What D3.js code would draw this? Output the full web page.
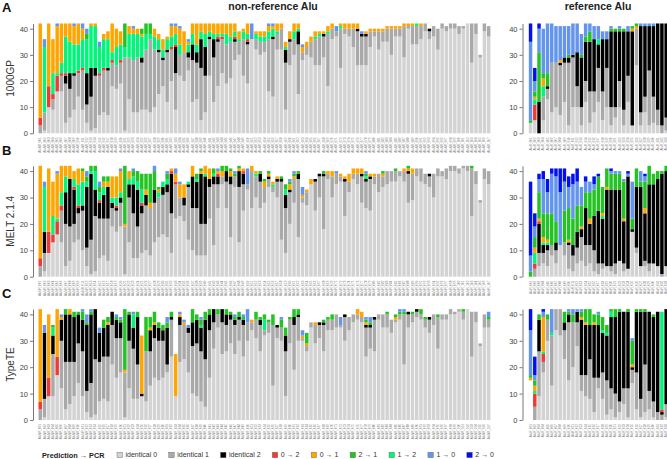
<!DOCTYPE html>
<html>
<head>
<meta charset="utf-8">
<script src="https://cdn.jsdelivr.net/npm/d3@7"></script>
<style>
  body { margin: 0; background: #fff; }
  text { font-family: "Liberation Sans", Arial, sans-serif; }
</style>
</head>
<body>
<div id="chart"></div>
<script>
// Alu genotype concordance (prediction -> PCR), stacked counts per locus

// stacking order, bottom to top
var stackKeys = ["identical 0", "identical 1", "identical 2", "0 → 2", "1 → 2", "0 → 1", "2 → 1", "1 → 0", "2 → 0"];
// legend order
var legendKeys = ["identical 0", "identical 1", "identical 2", "0 → 2", "0 → 1", "2 → 1", "1 → 2", "1 → 0", "2 → 0"];
var colors = {
  "identical 0": "#d3d3d3", "identical 1": "#a9a9a9", "identical 2": "#000000",
  "0 → 2": "#ef3b36", "0 → 1": "#ffa500", "2 → 1": "#22c322",
  "1 → 2": "#00f57a", "1 → 0": "#6495ed", "2 → 0": "#0010ee"
};

var yTicks = [0, 10, 20, 30, 40];

// locus ids (too small to read in the figure)
var nonRefIds = d3.range(1, 108).map(i => "AluNR_" + String(i).padStart(3, "0"));
var refIds = d3.range(1, 34).map(i => "AluR_" + String(i).padStart(3, "0"));

// counts per locus, in stackKeys order (missing trailing entries = 0)
var gpNonRef = [
  [0,3,0,3,0,36],[1,7,0,0,25,0,0,3],[10,0,0,8,0,24],[9,4,0,2,8,13],[16,0,0,6,1,18,0,1],
  [16,6,0,1,4,15],[4,15,3,1,14,5],[6,11,6,0,12,7],[9,13,1,0,11,7,0,1],[14,9,0,1,10,8],
  [9,15,0,1,11,4,0,2],[4,7,12,0,13,0,2,2],[1,13,11,0,16,1],[2,20,3,0,16,1],[7,15,0,1,10,0,0,2],
  [8,16,0,1,11,2],[7,17,1,0,11,3],[18,9,0,1,3,11],[17,9,0,0,7,7],[19,8,0,1,6,5],
  [1,28,0,0,4,0,9],[13,16,0,0,9,3],[8,20,0,0,10,2,0,1],[8,21,0,0,9,2],[9,18,2,0,8,1,2],
  [9,23,0,0,6,0,4],[8,28,0,0,2,0,4],[10,22,0,0,5,3],[15,16,1,0,4,2],[18,10,1,0,3,4],
  [12,19,1,0,4,1],[20,12,0,1,4,4,0,1],[9,14,10,1,4,3,0,1],[22,8,0,0,4,6,0,1],[20,11,0,0,0,8],
  [24,5,2,0,3,1,0,1],[12,16,6,0,4,4],[13,14,4,0,3,8],[5,20,11,0,3,3],[8,14,11,0,5,4],
  [22,14,1,0,2,3],[12,17,7,0,2,4],[18,17,1,1,1,4],[23,13,0,1,1,4],[19,15,0,0,4,4],
  [21,14,0,0,2,5],[28,7,1,1,2,3],[30,5,0,0,1,3],[22,14,0,0,3,1],[19,15,1,1,2,4],
  [36,0,0,0,0,0,0,6],[32,4,0,0,2,1],[30,5,0,0,2,2],[31,4,0,0,2,2],[16,20,0,0,3,2,0,1],
  [14,22,1,0,3,1,0,1],[32,6,0,0,1,3],[32,8,0,0,0,2],[9,18,5,0,1,2],[26,9,1,0,0,3],
  [30,6,0,0,3,3],[15,19,5,0,1,2],[28,3,0,0,0,2,0,1],[30,3,0,0,0,2],[29,6,0,0,0,2],
  [26,10,0,0,1,2],[26,11,0,0,1,1],[29,8,1,0,0,1],[18,20,0,0,1,2],[36,4,0,0,0,2],
  [37,2,0,0,0,0,0,2],[25,15,0,0,1,1],[38,2,0,0,0,2],[37,3,0,0,0,2],[33,7,0,0,0,2],
  [26,13,1,0,0,2],[26,11,1,0,0,0,0,1],[26,11,1,0,0,1],[33,6,0,0,0,1],[37,2,0,0,0,1],
  [32,7,0,0,0,1],[35,4,0,0,0,1],[35,5,0,0,0,1],[30,10,0,0,0,1],[37,3,0,0,0,1],
  [37,3,0,0,0,1],[29,12,0,0,0,1],[40,1,0,0,0,1],[34,7,0,0,0,1],[34,7,0,0,1],
  [36,5,0,0,0,1],[39,3],[36,3,1],[37,4],[32,8],
  [40,2],[39,2],[40,2],[40,2],[38,3],
  [40,1],[42],[27,15],[38,4],[29,1],
  [39,3],[37,4]
];
var gpRef = [
  [4,0,0,0,0,0,1,30,7],[5,0,0,6,2,1,2,4,5],[0,0,12,0,0,0,19,9,2],[5,9,0,0,4,3,2,17],[13,4,1,0,0,0,5,19],
  [8,19,0,0,0,0,0,15],[10,17,0,0,0,0,0,14],[7,19,1,0,0,1,0,13],[12,15,2,0,0,0,0,12],[3,24,2,0,0,0,1,11],
  [10,19,1,0,0,0,0,12],[10,8,13,0,0,0,0,11],[3,7,19,0,0,0,1,8],[12,8,15,0,0,0,2,5],[4,12,19,0,0,0,4,3],
  [8,8,20,0,0,0,0,5],[12,13,9,0,2,0,0,5],[5,11,20,0,0,0,0,3],[10,15,11,0,0,0,0,3],[3,7,29,0,0,0,1,1],
  [6,4,29,0,0,0,1],[10,10,19,0,0,0,1,1],[3,6,30,0,0,0,1],[12,10,17,0,0,0,0,2],[3,0,36,0,0,1,1],
  [26,14,0,0,0,1,1],[3,5,33,0,0,0,0,1],[8,6,27,0,0,0,0,1],[3,21,17,0,0,0,0,1],[4,10,27,0,0,0,0,1],
  [3,6,33],[0,3,39],[1,5,36]
];

var meltNonRef = [
  [0,4,0,3,0,35],[2,7,8,0,17,0,0,2],[9,0,0,8,0,24],[13,0,0,3,7,13],[16,0,0,5,1,17,0,1],
  [13,12,0,2,5,10],[4,16,12,0,6,4],[6,13,18,0,0,5],[13,7,13,1,3,3],[14,10,2,1,8,6],
  [10,15,2,0,9,4,1],[4,7,23,0,2,0,2,2],[1,13,25,0,1,0,2],[2,21,10,0,7,0,2],[7,15,6,1,3,0,2,2],
  [8,14,9,0,3,2,2],[6,16,12,0,0,2,2],[19,7,2,0,2,8],[17,8,1,1,3,8],[19,9,2,0,2,8,0,1],
  [1,18,0,0,0,1,22],[13,17,5,0,2,3],[7,17,11,0,3,0,2,1],[7,12,14,0,3,0,4],[9,15,3,1,5,0,6],
  [10,17,4,0,0,2,6],[8,18,0,0,0,2,11],[13,15,5,0,0,0,7,2],[15,15,0,0,2,1,1],[16,15,3,0,2],
  [15,17,3,0,2,0,2,1],[9,15,15,1,0,1],[22,13,0,1,0,3,0,2],[23,7,0,0,0,5,0,1],[21,6,3,0,0,5],
  [14,20,1,0,1],[10,16,12,0,0,4],[8,18,10,0,1,0,2],[8,12,19,0,0,1,1],[8,12,18,0,1,3],
  [22,12,3,0,0,4],[12,23,3,0,1,0,2],[26,9,3,1,0,1,0,1],[35,3,0,0,0,2,2],[26,10,4,0,0,0,2],
  [15,20,3,0,0,2,1],[34,4,0,0,0,0,1,1],[13,21,6,0,0,1,1],[25,10,4,1,0,1],[33,2,0,0,0,0,0,6],
  [26,14,0,0,0,2],[30,8,0,0,1,1],[26,10,3,0,0,0,1],[28,6,0,0,0,2,1],[34,3,1,0,0,1,1],
  [32,2,0,0,1,1],[30,6,1,0,0,1],[14,22,1,0,0,0,1],[9,17,5,0,2,0,2],[20,12,1,0,0,2,1,1],
  [28,9,0,0,0,1,1,1],[15,22,2,0,0,0,1],[28,2,0,0,0,1,0,3],[27,5,0,0,0,1],[35,0,0,0,0,2],
  [25,11,1],[30,8,1],[18,20,1,0,0,0,1],[37,2,0,0,0,1],[30,8,0,0,0,2],
  [35,4,0,0,0,0,0,1],[36,2,0,0,0,1],[23,13,1,0,0,1],[32,4,0,0,0,3],[37,2,0,0,0,2],
  [35,4,0,0,0,2],[28,10,1,0,0,2],[26,10,1,0,1,0,1,1],[25,12,1,0,0,1],[35,3,0,0,0,1],
  [32,7],[34,4,0,0,0,1,1],[35,5],[36,4],[36,4,0,0,0,0,1],
  [38,2],[36,4,0,0,0,1],[28,11,1,0,0,1,1],[29,10,0,0,0,2],[38,3],
  [36,5],[35,4],[34,4,1],[30,9],[38,3],
  [38,2],[37,4],[40,2],[40,2],[39,2],
  [41,1],[40,2],[23,18,0,0,0,0,1],[35,5],[28,1],
  [37,4],[35,5]
];
var meltRef = [
  [0,0,0,0,0,0,2,6,28],[0,3,0,2,4,2,4,4,5],[4,5,11,1,0,1,10,5,2],[5,4,3,0,1,2,9,13,3],[4,6,2,0,1,1,10,8,5],
  [8,4,0,0,0,0,12,15,2],[5,5,3,0,0,0,8,17,3],[12,0,0,0,0,0,0,20,9],[8,5,0,0,0,0,12,11,5],[3,9,1,0,0,1,12,8,4],
  [2,6,4,0,0,0,10,13,4],[5,6,6,0,0,0,10,9,5],[6,9,3,0,0,1,8,7],[4,8,14,0,0,0,6,4,2],[5,7,8,0,0,2,10,4],
  [2,8,13,0,0,0,10,2,3],[1,4,20,0,0,0,13,0,1],[3,2,17,0,1,1,10],[4,0,29,0,0,1,7],[2,2,29,0,0,0,6,1,1],
  [1,4,28,0,0,0,6,1],[6,0,27,0,0,0,6,1],[2,3,16,0,0,1,14,1],[3,0,35,0,0,0,0,1,1],[17,0,1,0,0,0,4,14],
  [9,2,23,0,0,0,7],[4,0,30,0,0,0,2,4],[4,2,18,0,0,2,10,2,1],[2,3,30,0,0,0,7],[5,0,30,0,0,0,4],
  [4,0,33,0,0,0,3],[0,1,38,0,0,0,1],[4,0,36,0,0,0,2]
];

var typeNonRef = [
  [0,4,0,3,0,35],[1,7,25,0,0,0,0,3],[9,0,0,7,0,24],[9,16,7,0,3,0,1],[17,0,0,7,0,18],
  [12,18,8,0,0,1,0,1],[4,18,18,0,0,0,2],[6,16,18,0,0,2],[9,13,17,0,0,0,2],[14,15,11,0,0,0,1],
  [9,17,12,0,0,0,3,1],[3,8,25,0,0,0,1,3],[1,13,26,0,0,0,1,1],[2,21,19],[7,15,11,0,0,0,0,2],
  [8,16,11,0,0,0,3],[7,17,12,0,0,1,2],[21,15,5],[16,15,7,0,0,0,1,1],[18,13,6,0,0,0,1,1],
  [1,17,0,0,0,1,23],[12,18,10,0,0,0,1],[8,19,8,0,5,0,0,1],[8,13,18,0,0,0,2],[9,0,1,0,0,22],
  [7,19,0,0,0,0,13],[13,13,8,0,0,1,4],[16,15,5,0,0,1,4],[15,15,5,0,0,0,2],[16,14,4,0,0,0,2],
  [18,3,14,0,0,0,2,2],[24,14,1,0,0,0,2],[9,0,0,0,0,16],[22,14,3,0,0,1,0,1],[23,13,0,0,0,1,0,1],
  [18,15,2,0,0,0,0,1],[10,18,9,0,0,0,5],[9,20,9,0,0,0,2],[7,19,9,0,1,0,2,1],[5,18,15,0,0,0,3],
  [16,18,6,0,0,0,2],[27,10,5],[35,5,0,0,0,0,2],[25,12,5],[26,10,4,0,0,0,2],
  [29,9,2,0,0,0,1],[25,11,2,0,0,0,1,1],[30,8,1,0,0,0,2],[24,12,2,0,0,0,1,1],[30,7,0,0,0,0,0,5],
  [34,3,0,0,0,1],[31,7,0,0,0,0,3],[26,10,2,0,0,0,1],[32,2,0,0,4,0,2],[33,4,0,0,0,0,1],
  [13,23,0,0,0,0,4],[31,4,1],[30,5,0,0,0,0,3,1],[9,17,6,0,0,0,3],[29,9,0,0,0,0,1],
  [19,17,3,0,0,0,3],[30,9,1,0,0,0,2],[30,1,0,0,0,1,0,2],[26,2,0,0,0,1,4],[35,2],
  [29,7,0,0,0,1],[31,5,1],[26,10,1,0,0,0,1],[34,4,0,0,0,0,1],[34,4,0,0,0,0,2],
  [35,5],[35,1,0,0,0,0,0,3],[30,9,1],[34,5],[37,3],
  [38,2,0,0,0,2],[37,2,0,0,0,2],[24,11,1,0,0,1,1,1],[27,8,1,0,0,0,1,2],[26,12,1],
  [38,2],[35,5],[35,5,0,0,0,0,1],[33,5],[37,1,0,0,0,1,1],
  [38,2,0,0,0,0,1,1],[21,19,0,0,0,0,1,1],[35,5,1],[37,3,0,0,0,0,1],[39,2,1],
  [38,2,0,0,0,0,2],[35,3,0,0,0,0,1],[33,5,1],[36,4],[27,12,0,0,0,0,1],
  [38,2],[38,2],[40,2],[40,1],[41,1],
  [38,3,0,0,0,0,1],[42],[24,17],[37,4],[28,1],
  [35,5],[35,3,0,0,0,0,1,2]
];
var typeRef = [
  [0,0,0,0,0,1,1,17,8],[0,5,0,5,1,2,2,2,7],[9,17,12,0,0,0,2],[18,4,0,3,1,13,0,2,1],[30,8,0,0,0,0,2],
  [13,19,0,0,1,0,0,9],[34,8],[32,10],[23,11,3,0,0,0,4],[15,22,3,0,0,0,1,1],
  [20,17,0,0,0,0,3,2],[28,9,4,0,0,0,0,1],[11,6,21,0,0,1,2,1],[9,8,19,0,0,1,5],[8,15,13,0,0,0,6],
  [3,13,20,0,0,1,3],[12,4,20,0,0,0,4,1],[8,10,15,0,1,0,5],[2,13,17,0,1,0,3],[4,8,27,0,2,0,1],
  [1,9,29,0,0,0,3],[3,4,34,0,0,0,1],[6,6,29],[1,11,29,0,0,0,1],[14,5,1,0,0,1,9,1],
  [4,14,23,0,0,0,1],[1,7,33,0,0,0,1],[3,18,20,0,0,0,1],[4,7,30],[1,6,32,0,0,0,1],
  [0,3,38],[0,2,1,1,37],[1,5,36]
];
// empty space below the first reference bar of TypeTE
var typeRefBlank = [15];

var rows = [
  { letter: "A", label: "1000GP", y0: 133.3, unit: 2.615, nonRef: gpNonRef, ref: gpRef, refBlank: [] },
  { letter: "B", label: "MELT 2.1.4", y0: 276.7, unit: 2.64, nonRef: meltNonRef, ref: meltRef, refBlank: [] },
  { letter: "C", label: "TypeTE", y0: 420, unit: 2.64, nonRef: typeNonRef, ref: typeRef, refBlank: typeRefBlank }
];

var svgWidth = 667, svgHeight = 459;
var svg = d3.select("#chart").append("svg")
  .attr("width", svgWidth)
  .attr("height", svgHeight);

var step = 4.227;
var xNonRef = d3.scaleBand().domain(nonRefIds)
  .range([38.3, 38.3 + step * nonRefIds.length]).paddingInner(0.18).paddingOuter(0.05);
var xRef = d3.scaleBand().domain(refIds)
  .range([528.6, 528.6 + step * refIds.length]).paddingInner(0.18).paddingOuter(0.05);

// panel titles
svg.append("text").attr("x", 273).attr("y", 10).attr("text-anchor", "middle")
  .style("font-weight", "bold").style("font-size", "10.5px").attr("fill", "#222")
  .text("non-reference Alu");
svg.append("text").attr("x", 598).attr("y", 10).attr("text-anchor", "middle")
  .style("font-weight", "bold").style("font-size", "10.5px").attr("fill", "#222")
  .text("reference Alu");

function drawPanel(g, data, ids, x, y, blank) {
  data.forEach((bar, i) => {
    var cum = blank[i] || 0;
    stackKeys.forEach((k, j) => {
      var v = bar[j] || 0;
      if (v <= 0) return;
      g.append("rect")
        .attr("x", x(ids[i]))
        .attr("width", x.bandwidth())
        .attr("y", y(cum + v))
        .attr("height", y(cum) - y(cum + v))
        .attr("fill", colors[k]);
      cum += v;
    });
  });
}

rows.forEach(row => {
  var y = d3.scaleLinear().domain([0, 42]).range([row.y0, row.y0 - 42 * row.unit]);
  var g = svg.append("g");

  drawPanel(g, row.nonRef, nonRefIds, xNonRef, y, []);
  drawPanel(g, row.ref, refIds, xRef, y, row.refBlank);

  // y axes
  [33, 522.5].forEach(ax => {
    var axis = g.append("g")
      .attr("transform", `translate(${ax},0)`)
      .call(d3.axisLeft(y).tickValues(yTicks).tickSize(3).tickSizeOuter(0).tickPadding(2));
    axis.select(".domain").attr("stroke", "#555").attr("stroke-width", 0.8);
    axis.selectAll(".tick line").attr("stroke", "#555").attr("stroke-width", 0.8);
    axis.selectAll("text").style("font-size", "7.5px").attr("fill", "#444")
      .style("font-family", "'Liberation Sans', Arial, sans-serif");
  });

  // locus labels under bars
  [xNonRef, xRef].forEach(xs => {
    var lab = g.append("g")
      .attr("transform", `translate(0,${row.y0 + 3})`)
      .call(d3.axisBottom(xs).tickSize(0).tickPadding(0));
    lab.select(".domain").remove();
    lab.selectAll("text")
      .attr("transform", "rotate(-90)")
      .attr("x", -1).attr("y", 0).attr("dy", "0.35em")
      .style("text-anchor", "end")
      .style("font-size", "3px")
      .attr("fill", "#777");
  });

  // row letter and label
  svg.append("text").attr("x", 2).attr("y", row.y0 - 42 * row.unit - 11)
    .style("font-weight", "bold").style("font-size", "13px").attr("fill", "#111")
    .text(row.letter);
  svg.append("text")
    .attr("transform", `translate(14,${row.y0 - 21 * row.unit}) rotate(-90)`)
    .attr("text-anchor", "middle")
    .style("font-size", "10px").attr("fill", "#333")
    .text(row.label);
});

// legend
var legend = svg.append("g").attr("transform", "translate(0,455)");
legend.append("text").attr("x", 42).attr("y", 0).attr("dy", "0.35em")
  .style("font-weight", "bold").style("font-size", "7.3px").attr("fill", "#222")
  .text("Prediction → PCR");

var items = legend.selectAll("g.item").data(legendKeys).enter().append("g").attr("class", "item");
items.append("rect").attr("width", 5.5).attr("height", 5.5).attr("y", -2.75)
  .attr("fill", d => colors[d]).attr("stroke", "#666").attr("stroke-width", 0.4);
items.append("text").attr("x", 8.5).attr("y", 0).attr("dy", "0.35em")
  .style("font-size", "7px").attr("fill", "#333").text(d => d);

// spread items between x=117 and x=494
var widths = [];
items.selectAll("text").each(function() { widths.push(this.getComputedTextLength() + 8.5); });
var startX = 117, endX = 494;
var gap = (endX - startX - d3.sum(widths)) / (widths.length - 1);
var pos = startX;
items.each(function(d, i) {
  d3.select(this).attr("transform", `translate(${pos},0)`);
  pos += widths[i] + gap;
});
</script>
</body>
</html>
